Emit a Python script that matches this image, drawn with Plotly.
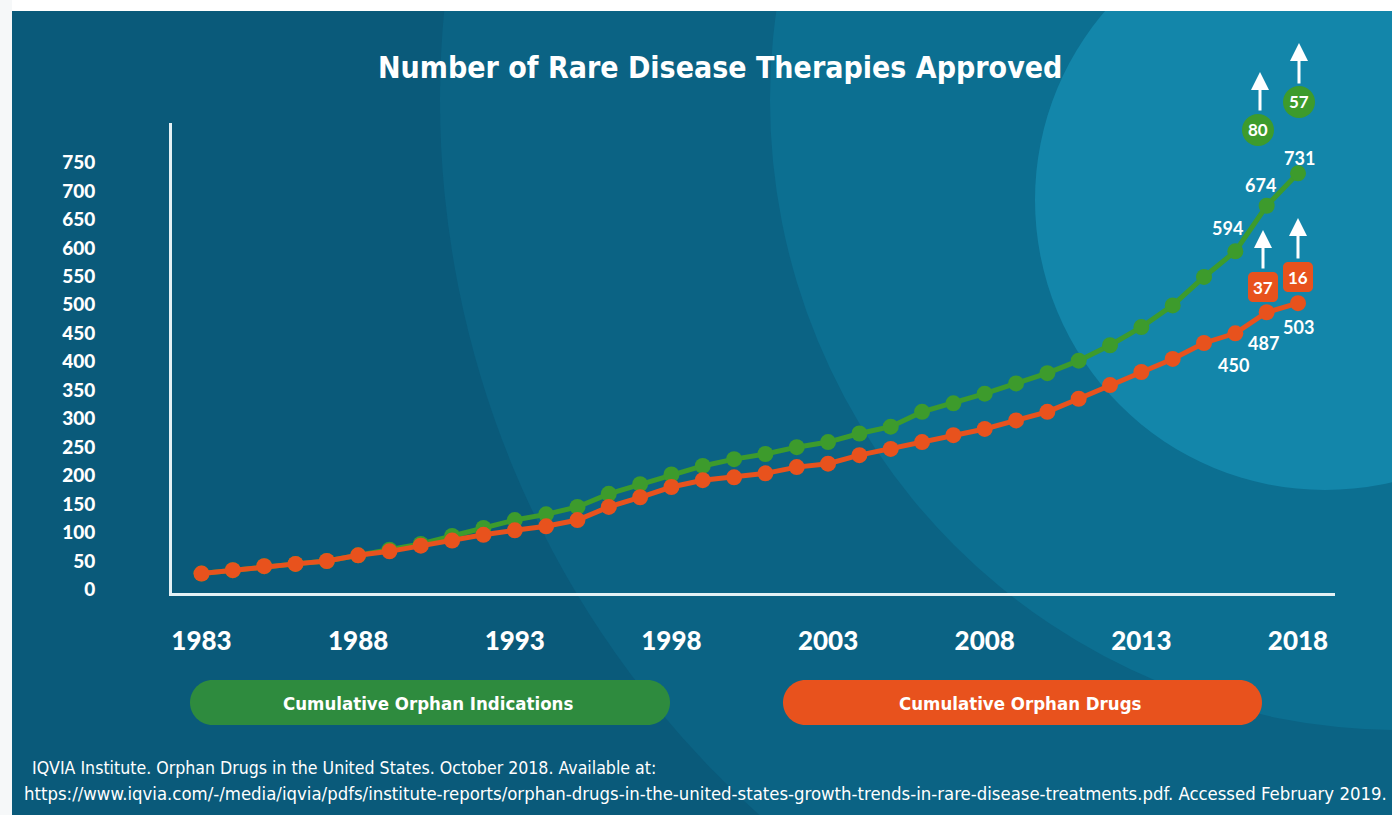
import plotly.graph_objects as go

# ---------------- data ----------------
years = list(range(1983, 2019))
orphan_indications = [28, 34, 41, 45, 50, 60, 70, 80, 94, 108, 122, 132, 145, 168, 185, 202,
                      217, 229, 238, 250, 259, 274, 286, 312, 327, 344, 362, 380, 402, 429,
                      461, 499, 549, 594, 674, 731]
orphan_drugs = [28, 34, 41, 45, 50, 60, 67, 77, 86, 96, 104, 111, 122, 145, 162, 180,
                192, 197, 204, 215, 221, 236, 247, 259, 271, 282, 297, 312, 335, 359,
                382, 405, 433, 450, 487, 503]
x_tick_years = [1983, 1988, 1993, 1998, 2003, 2008, 2013, 2018]
y_tick_values = list(range(0, 751, 50))
series_names = ["Cumulative Orphan Indications", "Cumulative Orphan Drugs"]
title_text = "Number of Rare Disease Therapies Approved"
source_lines = [
    "IQVIA Institute. Orphan Drugs in the United States. October 2018. Available at:",
    "https://www.iqvia.com/-/media/iqvia/pdfs/institute-reports/orphan-drugs-in-the-united-states-growth-trends-in-rare-disease-treatments.pdf. Accessed February 2019.",
]

# ---------------- style ----------------
W, H = 1392, 815
GREEN = "#3d9b2c"
PILL_GREEN = "#2e8b3e"
ORANGE = "#e8521d"
WHITE = "#ffffff"
LINE_WHITE = "#e4f1f5"
BOLD_FONT = "Lato"
NARROW = "DejaVu Sans Condensed, Liberation Sans Narrow, sans-serif"


def px(x):
    return x / W


def py(y):
    return 1 - y / H


def circle(cx, cy, r, color, layer="below"):
    return dict(type="circle", xref="paper", yref="paper",
                x0=px(cx - r), x1=px(cx + r), y0=py(cy + r), y1=py(cy - r),
                fillcolor=color, line=dict(width=0), layer=layer)


def rect(x0, y0, x1, y1, color, layer="below"):
    return dict(type="rect", xref="paper", yref="paper",
                x0=px(x0), x1=px(x1), y0=py(y1), y1=py(y0),
                fillcolor=color, line=dict(width=0), layer=layer)


def rounded(x0, y0, x1, y1, r, color, layer="below"):
    k = 0.5523 * r
    pts = [
        ("M", [(x0 + r, y0)]),
        ("L", [(x1 - r, y0)]),
        ("C", [(x1 - r + k, y0), (x1, y0 + r - k), (x1, y0 + r)]),
        ("L", [(x1, y1 - r)]),
        ("C", [(x1, y1 - r + k), (x1 - r + k, y1), (x1 - r, y1)]),
        ("L", [(x0 + r, y1)]),
        ("C", [(x0 + r - k, y1), (x0, y1 - r + k), (x0, y1 - r)]),
        ("L", [(x0, y0 + r)]),
        ("C", [(x0, y0 + r - k), (x0 + r - k, y0), (x0 + r, y0)]),
    ]
    path = ""
    for cmd, cs in pts:
        path += cmd + " " + " ".join(f"{px(a):.6f},{py(b):.6f}" for a, b in cs) + " "
    path += "Z"
    return dict(type="path", xref="paper", yref="paper", path=path,
                fillcolor=color, line=dict(width=0), layer=layer)


def note(text, x, y, font, xanchor="center"):
    return dict(text=text, x=px(x), y=py(y), xref="paper", yref="paper",
                showarrow=False, font=font, xanchor=xanchor, yanchor="middle")


fig = go.Figure()
fig.add_trace(go.Scatter(
    x=years, y=orphan_indications, name=series_names[0], mode="lines+markers",
    line=dict(color=GREEN, width=5), marker=dict(color=GREEN, size=16),
))
fig.add_trace(go.Scatter(
    x=years, y=orphan_drugs, name=series_names[1], mode="lines+markers",
    line=dict(color=ORANGE, width=5), marker=dict(color=ORANGE, size=16),
))

shapes = [
    rect(12, 11, W + 100, H + 100, "#0a5a7a"),
    circle(1400, 100, 960, "#0b6384"),
    circle(1400, 100, 630, "#0c6f91"),
    circle(1325, 200, 290, "#1386aa"),
    rect(-50, -50, W + 100, 11, "#ffffff"),
    rect(-50, -50, 12, H + 100, "#f6f8f9"),
    # legend pills
    rounded(190, 680, 670, 725, 22.5, PILL_GREEN),
    rounded(783, 680, 1262, 725, 22.5, ORANGE),
    # increment badges
    circle(1258, 130, 16, GREEN, layer="above"),
    circle(1299, 102, 16, GREEN, layer="above"),
    rounded(1248, 272, 1278, 302, 5, ORANGE, layer="above"),
    rounded(1283, 262, 1313, 292, 5, ORANGE, layer="above"),
]

pill_font = dict(family=NARROW, size=18.5, color=WHITE, weight="bold")
annotations = [
    note(title_text, 720, 68, dict(family=NARROW, size=30, color=WHITE, weight="bold")),
    note(series_names[0], 428, 703, pill_font),
    note(series_names[1], 1020, 703, pill_font),
    note(source_lines[0], 30, 768, dict(family=NARROW, size=17.6, color=WHITE), xanchor="left"),
    note(source_lines[1], 22, 793, dict(family=NARROW, size=18.4, color=WHITE), xanchor="left"),
]

# value labels for last three years
label_font = dict(family=BOLD_FONT, size=18, color=WHITE, weight="bold")
green_label_pos = [(1227, 228), (1260, 185), (1299, 158)]
orange_label_pos = [(1233, 365), (1263, 343), (1298, 327)]
for i, (lx, ly) in enumerate(green_label_pos):
    annotations.append(note(str(orphan_indications[-3 + i]), lx, ly, label_font))
for i, (lx, ly) in enumerate(orange_label_pos):
    annotations.append(note(str(orphan_drugs[-3 + i]), lx, ly, label_font))

# yearly increments (badges + arrows)
green_inc = [orphan_indications[-2] - orphan_indications[-3], orphan_indications[-1] - orphan_indications[-2]]
orange_inc = [orphan_drugs[-2] - orphan_drugs[-3], orphan_drugs[-1] - orphan_drugs[-2]]
badge_font = dict(family=BOLD_FONT, size=17, color=WHITE, weight="bold")
badges = [
    (green_inc[0], 1258, 130, 1260, 72, 112),
    (green_inc[1], 1299, 102, 1299, 43, 85),
    (orange_inc[0], 1263, 287, 1263, 230, 270),
    (orange_inc[1], 1298, 277, 1298, 218, 260),
]
for val, bx, by, ax_, ytop, ybot in badges:
    annotations.append(note(str(val), bx, by, badge_font))
    annotations.append(dict(text="", x=px(ax_), y=py(ytop), xref="paper", yref="paper",
                            showarrow=True, ax=0, ay=ybot - ytop, arrowhead=2, arrowsize=1.2,
                            arrowwidth=3, arrowcolor=WHITE, standoff=0))

fig.update_layout(
    width=W, height=H,
    margin=dict(l=0, r=0, t=0, b=0),
    paper_bgcolor="#ffffff",
    plot_bgcolor="rgba(0,0,0,0)",
    showlegend=False,
    shapes=shapes,
    annotations=annotations,
    xaxis=dict(
        domain=[px(172), px(1335)],
        range=[1982.058, 2019.181],
        showline=True, linecolor=LINE_WHITE, linewidth=3,
        showgrid=False, zeroline=False, automargin=False,
        tickmode="array", tickvals=x_tick_years, ticktext=[str(y) for y in x_tick_years],
        ticks="", ticklabelstandoff=23,
        tickfont=dict(family=BOLD_FONT, size=26, color=WHITE, weight=900),
    ),
    yaxis=dict(
        domain=[py(593), py(123)],
        range=[-6.15, 819.4],
        showline=True, linecolor=LINE_WHITE, linewidth=3,
        showgrid=False, zeroline=False, automargin=False,
        tickmode="array", tickvals=y_tick_values,
        ticks="", ticklabelstandoff=70,
        tickfont=dict(family=BOLD_FONT, size=19, color=WHITE, weight=900),
    ),
)

fig.write_html(
    "out.html",
    config={"displayModeBar": False},
    post_script="document.body.style.margin='0';document.body.style.overflow='hidden';",
)
